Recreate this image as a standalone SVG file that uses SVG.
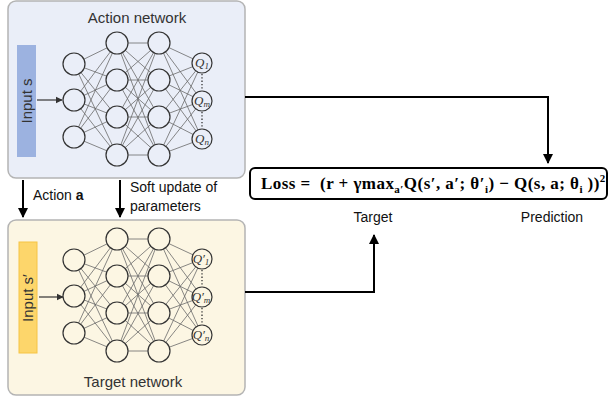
<svg xmlns="http://www.w3.org/2000/svg" xmlns:xlink="http://www.w3.org/1999/xlink" width="610" height="403" viewBox="0 0 610 403">
<style>
.sans{font-family:"Liberation Sans",Arial,sans-serif;}
.title{font-size:15px;fill:#333;text-anchor:middle;}
.lbl{font-size:14px;fill:#111;}
.q{font-family:"Liberation Serif","DejaVu Serif",serif;font-style:italic;font-size:13px;fill:#333;text-anchor:middle;}
.loss{font-family:"Liberation Serif","DejaVu Serif",serif;font-weight:bold;font-size:17px;letter-spacing:0.45px;fill:#000;}
.conn{stroke:#000;stroke-width:2;fill:none;}
.wire{stroke:#6a6a6a;stroke-width:0.8;fill:none;}
.node{stroke:#333;stroke-width:1.2;}
.dots{stroke:#333;stroke-width:1.3;stroke-dasharray:1.3 2;}
</style>
<defs>
<marker id="ah" viewBox="0 0 10 10" refX="9" refY="5" markerWidth="5" markerHeight="5" orient="auto" markerUnits="strokeWidth">
<path d="M0 0L10 5L0 10z" fill="#000"/>
</marker>
<marker id="ahs" viewBox="0 0 10 10" refX="9" refY="5" markerWidth="6" markerHeight="6" orient="auto" markerUnits="strokeWidth">
<path d="M0 0L10 5L0 10z" fill="#333"/>
</marker>
<g id="mlp">
<path class="wire" d="M74 64L117 43M74 64L117 80M74 64L117 117M74 64L117 155M74 100L117 43M74 100L117 80M74 100L117 117M74 100L117 155M74 137L117 43M74 137L117 80M74 137L117 117M74 137L117 155M117 43L159 43M117 43L159 80M117 43L159 117M117 43L159 155M117 80L159 43M117 80L159 80M117 80L159 117M117 80L159 155M117 117L159 43M117 117L159 80M117 117L159 117M117 117L159 155M117 155L159 43M117 155L159 80M117 155L159 117M117 155L159 155M159 43L202 63M159 43L202 101M159 43L202 139M159 80L202 63M159 80L202 101M159 80L202 139M159 117L202 63M159 117L202 101M159 117L202 139M159 155L202 63M159 155L202 101M159 155L202 139"/>
<circle class="node" cx="74" cy="64" r="11"/>
<circle class="node" cx="74" cy="100" r="11"/>
<circle class="node" cx="74" cy="137" r="11"/>
<circle class="node" cx="117" cy="43" r="11"/>
<circle class="node" cx="117" cy="80" r="11"/>
<circle class="node" cx="117" cy="117" r="11"/>
<circle class="node" cx="117" cy="155" r="11"/>
<circle class="node" cx="159" cy="43" r="11"/>
<circle class="node" cx="159" cy="80" r="11"/>
<circle class="node" cx="159" cy="117" r="11"/>
<circle class="node" cx="159" cy="155" r="11"/>
<circle class="node" cx="202" cy="63" r="10"/>
<circle class="node" cx="202" cy="101" r="10"/>
<circle class="node" cx="202" cy="139" r="10"/>
<path class="dots" d="M202 74V90M202 112V128"/>
</g>
</defs>

<g id="action-network">
<rect x="8" y="1" width="237" height="177" rx="8" fill="#eaeef8" stroke="#b4b4b4" stroke-width="1.5"/>
<text class="sans title" x="137" y="23">Action network</text>
<rect x="17" y="45" width="19" height="112" fill="#9cb2e0"/>
<text class="sans" font-size="15" fill="#333" text-anchor="middle" transform="translate(32 101) rotate(-90)">Input s</text>
<line x1="37" y1="100" x2="62" y2="100" stroke="#333" stroke-width="1.2" marker-end="url(#ahs)"/>
<use xlink:href="#mlp" fill="#eaeef8"/>
<text class="q" x="202" y="67">Q<tspan font-size="9" dy="2">1</tspan></text>
<text class="q" x="202" y="105">Q<tspan font-size="9" dy="2">m</tspan></text>
<text class="q" x="202" y="143">Q<tspan font-size="9" dy="2">n</tspan></text>
</g>

<g id="target-network">
<rect x="8" y="220" width="237" height="175" rx="8" fill="#fcf6e3" stroke="#b4b4b4" stroke-width="1.5"/>
<rect x="19" y="242" width="18" height="111" fill="#fdd66b" stroke="#f6c445" stroke-width="1"/>
<text class="sans" font-size="15" fill="#333" text-anchor="middle" transform="translate(33 298) rotate(-90)">Input s′</text>
<line x1="39" y1="297" x2="63" y2="297" stroke="#333" stroke-width="1.2" marker-end="url(#ahs)"/>
<use xlink:href="#mlp" transform="translate(0 196)" fill="#fcf6e3"/>
<text class="q" x="201" y="263">Q′<tspan font-size="9" dy="2">1</tspan></text>
<text class="q" x="201" y="301">Q′<tspan font-size="9" dy="2">m</tspan></text>
<text class="q" x="201" y="339">Q′<tspan font-size="9" dy="2">n</tspan></text>
<text class="sans title" x="133" y="387">Target network</text>
</g>

<g id="loss">
<rect x="250" y="168" width="357" height="31" rx="5" fill="#fff" stroke="#000" stroke-width="2"/>
<text class="loss" x="261" y="189" xml:space="preserve">Loss =  (r + γmax<tspan font-size="11" dy="4">a′</tspan><tspan dy="-4">Q(s′, a′; θ′</tspan><tspan font-size="11" dy="4">i</tspan><tspan dy="-4">) − Q(s, a; θ</tspan><tspan font-size="11" dy="4">i</tspan><tspan dy="-4"> ))</tspan><tspan font-size="11" dy="-7">2</tspan></text>
<text class="sans lbl" x="373" y="222" text-anchor="middle">Target</text>
<text class="sans lbl" x="552" y="222" text-anchor="middle">Prediction</text>
</g>

<g id="connectors">
<path class="conn" d="M245 97H548V163" marker-end="url(#ah)"/>
<path class="conn" d="M245 292H374V235" marker-end="url(#ah)"/>
<path class="conn" d="M23 180V217" marker-end="url(#ah)"/>
<path class="conn" d="M120 180V217" marker-end="url(#ah)"/>
<text class="sans lbl" x="33" y="200">Action <tspan font-weight="bold">a</tspan></text>
<text class="sans lbl" x="130" y="192">Soft update of</text>
<text class="sans lbl" x="130" y="211">parameters</text>
</g>
</svg>
